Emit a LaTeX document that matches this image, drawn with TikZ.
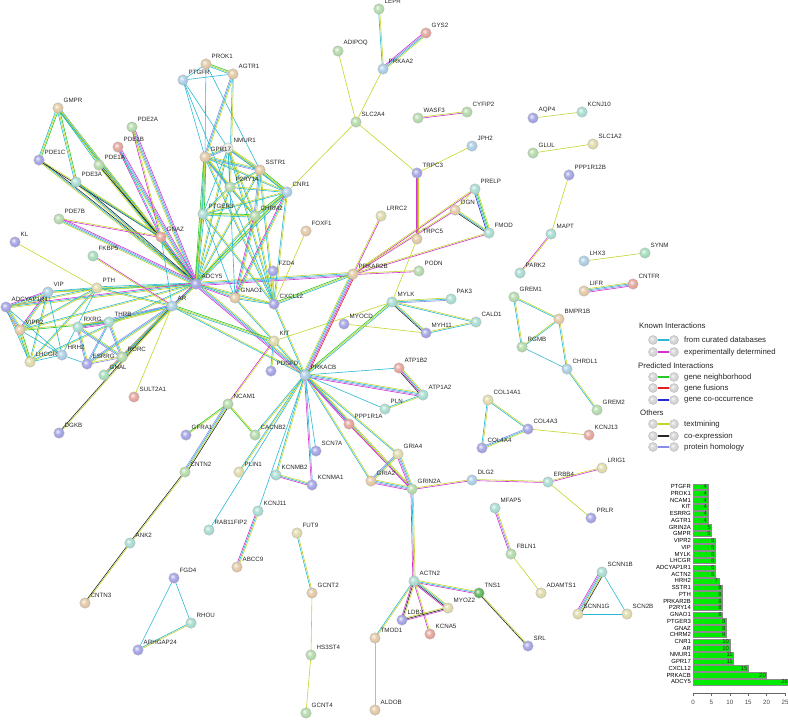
\documentclass[tikz,border=0pt]{standalone}
\usepackage{fontspec}
\setmainfont{Liberation Sans}
\usetikzlibrary{calc,backgrounds}
\definecolor{cd}{RGB}{40,185,210}
\definecolor{ce}{RGB}{210,50,210}
\definecolor{ct}{RGB}{195,212,40}
\definecolor{cx}{RGB}{40,40,40}
\definecolor{ch}{RGB}{140,140,235}
\definecolor{cn}{RGB}{40,200,40}
\definecolor{cf}{RGB}{230,30,30}
\definecolor{co}{RGB}{40,40,220}
\definecolor{bP}{RGB}{150,150,225}
\definecolor{bT}{RGB}{222,192,152}
\definecolor{bG}{RGB}{168,212,158}
\definecolor{bY}{RGB}{218,212,158}
\definecolor{bC}{RGB}{155,214,202}
\definecolor{bB}{RGB}{158,198,224}
\definecolor{bS}{RGB}{224,152,142}
\definecolor{bL}{RGB}{228,232,218}
\definecolor{bD}{RGB}{70,168,70}
\definecolor{bM}{RGB}{150,215,175}
\definecolor{lgray}{RGB}{205,205,205}
\definecolor{barg}{RGB}{0,235,0}
\colorlet{sbc}{white}
\pgfdeclareradialshading[sbc]{sballsh}{\pgfqpoint{-8bp}{8bp}}{%
 color(0bp)=(sbc!10!white); color(12bp)=(sbc!75!white); color(28bp)=(sbc);
 color(45bp)=(sbc!85!black); color(64bp)=(sbc!70!black)}
\tikzset{
 sball/.style={circle, minimum size=10.5pt, inner sep=0pt, draw=black!30,
   line width=0.3pt, /utils/exec={\colorlet{sbc}{#1}}, shading=sballsh},
 lbl/.style={anchor=south west, inner sep=0pt, font=\fontsize{6.2}{7}\selectfont, text=black!85},
 lghead/.style={anchor=west, inner sep=0pt, font=\fontsize{7.8}{9}\selectfont, text=black!85},
 lgtxt/.style={anchor=west, inner sep=0pt, font=\fontsize{7.8}{9}\selectfont, text=black!85},
 lgball/.style={sball=lgray, minimum size=9pt},
 barlbl/.style={anchor=east, inner sep=0pt, font=\fontsize{5.9}{6}\selectfont},
 barnum/.style={anchor=east, inner sep=0pt, font=\fontsize{5.9}{6}\selectfont, text=black!80},
 ticklbl/.style={anchor=north, inner sep=0pt, font=\fontsize{6.2}{7}\selectfont, text=black!70},
}
\newcommand\N[5]{\node[sball=#4] (#1) at (#2,#3) {};
  \node[lbl] (#1l) at ($(#1)+(5.5,-5)$) {#5};}
\newcommand\E[3]{%
 \foreach \cc [count=\ii] in {#3} {\xdef\ecnt{\ii}}%
 \foreach \cc [count=\ii] in {#3} {%
   \pgfmathsetmacro\eoff{(\ii-(\ecnt+1)/2)*1.15}%
   \draw[line width=0.6pt, color=\cc] ($(#1)!\eoff pt!90:(#2)$) -- ($(#2)!\eoff pt!-90:(#1)$);
 }}
\newcommand\LG[4]{\node[lgball] (#1a) at (653,#2) {}; \node[lgball] (#1b) at (674,#2) {};
 \node[lgtxt] (#1t) at (684,#2) {#4};
 \begin{pgfonlayer}{background}\draw[#3, line width=2.2pt] (#1a) -- (#1b);\end{pgfonlayer}}
\begin{document}
\begin{tikzpicture}[x=1pt,y=-1pt]
\useasboundingbox (0,0) rectangle (788,723);
% ---------- nodes: left cluster
\N{GMPR}{58}{108}{bT}{GMPR}
\N{PDE2A}{132}{127}{bG}{PDE2A}
\N{PDE1B}{118}{147}{bS}{PDE1B}
\N{PDE1C}{39}{160}{bP}{PDE1C}
\N{PDE1A}{99}{165}{bG}{PDE1A}
\N{PDE3A}{76}{182}{bC}{PDE3A}
\N{PDE7B}{59}{219}{bG}{PDE7B}
\N{GNAZ}{161}{237}{bS}{GNAZ}
\N{KL}{15}{242}{bP}{KL}
\N{FKBP5}{93}{256}{bM}{FKBP5}
\N{ADCY5}{196}{284}{bP}{ADCY5}
\N{PTH}{97}{288}{bY}{PTH}
\N{VIP}{48}{292}{bB}{VIP}
\N{AR}{172}{306}{bB}{AR}
\N{ADCYAP1R1}{6}{307}{bP}{ADCYAP1R1}
\N{VIPR2}{20}{330}{bT}{VIPR2}
\N{RXRG}{78}{327}{bC}{RXRG}
\N{THRB}{109}{322}{bC}{THRB}
\N{HRH2}{62}{355}{bB}{HRH2}
\N{LHCGR}{30}{362}{bY}{LHCGR}
\N{ESRRG}{87}{364}{bP}{ESRRG}
\N{RORC}{122}{357}{bG}{RORC}
\N{GNAL}{104}{375}{bM}{GNAL}
\N{SULT2A1}{134}{397}{bS}{SULT2A1}
\N{DGKB}{59}{433}{bP}{DGKB}
\N{KIT}{274}{341}{bY}{KIT}
\N{PDGFD}{271}{371}{bP}{PDGFD}
\N{NCAM1}{228}{404}{bG}{NCAM1}
\N{GFRA1}{186}{435}{bP}{GFRA1}
\N{CACNB2}{255}{435}{bG}{CACNB2}
\N{CNTN2}{185}{472}{bG}{CNTN2}
\N{PLIN1}{239}{472}{bY}{PLIN1}
\N{KCNMB2}{276}{475}{bC}{KCNMB2}
\N{KCNJ11}{258}{511}{bC}{KCNJ11}
\N{RAB11FIP2}{209}{530}{bC}{RAB11FIP2}
\N{ANK2}{130}{543}{bC}{ANK2}
\N{ABCC9}{237}{567}{bT}{ABCC9}
\N{FGD4}{174}{578}{bP}{FGD4}
\N{CNTN3}{85}{603}{bT}{CNTN3}
\N{RHOU}{191}{623}{bC}{RHOU}
\N{ARHGAP24}{138}{650}{bP}{ARHGAP24}
% ---------- GPCR cluster
\N{PTGFR}{183}{80}{bB}{PTGFR}
\N{PROK1}{206}{64}{bT}{PROK1}
\N{AGTR1}{233}{74}{bT}{AGTR1}
\N{NMUR1}{228}{148}{bL}{NMUR1}
\N{GPR17}{205}{157}{bT}{GPR17}
\N{SSTR1}{260}{170}{bT}{SSTR1}
\N{P2RY14}{230}{187}{bG}{P2RY14}
\N{CNR1}{287}{192}{bB}{CNR1}
\N{PTGER3}{203}{214}{bC}{PTGER3}
\N{CHRM2}{255}{216}{bG}{CHRM2}
\N{FOXF1}{306}{231}{bT}{FOXF1}
\N{FZD4}{273}{271}{bP}{FZD4}
\N{GNAO1}{235}{298}{bT}{GNAO1}
\N{CXCL12}{274}{304}{bP}{CXCL12}
\N{MYOCD}{344}{324}{bP}{MYOCD}
\N{PRKAR2B}{353}{274}{bT}{PRKAR2B}
\N{PRKACB}{305}{375}{bB}{PRKACB}
% ---------- right part
\N{LEPR}{379}{9}{bG}{LEPR}
\N{GYS2}{426}{33}{bS}{GYS2}
\N{ADIPOQ}{338}{51}{bG}{ADIPOQ}
\N{PRKAA2}{383}{69}{bB}{PRKAA2}
\N{SLC2A4}{356}{122}{bG}{SLC2A4}
\N{WASF3}{418}{118}{bG}{WASF3}
\N{CYFIP2}{467}{112}{bG}{CYFIP2}
\N{AQP4}{533}{118}{bP}{AQP4}
\N{KCNJ10}{582}{112}{bC}{KCNJ10}
\N{JPH2}{472}{146}{bB}{JPH2}
\N{GLUL}{533}{153}{bG}{GLUL}
\N{SLC1A2}{593}{144}{bY}{SLC1A2}
\N{PPP1R12B}{569}{175}{bP}{PPP1R12B}
\N{TRPC3}{417}{173}{bP}{TRPC3}
\N{PRELP}{475}{189}{bC}{PRELP}
\N{OGN}{455}{210}{bT}{OGN}
\N{LRRC2}{381}{216}{bY}{LRRC2}
\N{FMOD}{489}{233}{bC}{FMOD}
\N{TRPC5}{417}{239}{bT}{TRPC5}
\N{MAPT}{551}{234}{bC}{MAPT}
\N{PODN}{419}{271}{bG}{PODN}
\N{LHX3}{584}{261}{bB}{LHX3}
\N{SYNM}{645}{253}{bM}{SYNM}
\N{PARK2}{520}{273}{bC}{PARK2}
\N{LIFR}{584}{291}{bT}{LIFR}
\N{CNTFR}{633}{284}{bS}{CNTFR}
\N{MYLK}{392}{302}{bC}{MYLK}
\N{PAK3}{451}{299}{bC}{PAK3}
\N{GREM1}{514}{297}{bG}{GREM1}
\N{BMPR1B}{559}{319}{bT}{BMPR1B}
\N{CALD1}{476}{322}{bC}{CALD1}
\N{MYH11}{426}{333}{bP}{MYH11}
\N{RGMB}{522}{347}{bG}{RGMB}
\N{CHRDL1}{567}{369}{bB}{CHRDL1}
\N{GREM2}{597}{410}{bG}{GREM2}
\N{COL14A1}{488}{400}{bY}{COL14A1}
\N{COL4A3}{528}{429}{bP}{COL4A3}
\N{COL4A4}{482}{448}{bP}{COL4A4}
\N{KCNJ13}{589}{435}{bS}{KCNJ13}
\N{ATP1B2}{399}{368}{bS}{ATP1B2}
\N{ATP1A2}{423}{395}{bC}{ATP1A2}
\N{PLN}{385}{409}{bC}{PLN}
\N{PPP1R1A}{349}{424}{bS}{PPP1R1A}
\N{SCN7A}{316}{451}{bP}{SCN7A}
\N{GRIA4}{398}{454}{bY}{GRIA4}
\N{GRIA2}{371}{481}{bT}{GRIA2}
\N{KCNMA1}{312}{485}{bP}{KCNMA1}
\N{GRIN2A}{412}{489}{bG}{GRIN2A}
\N{DLG2}{472}{480}{bB}{DLG2}
\N{ERBB4}{548}{482}{bC}{ERBB4}
\N{LRIG1}{602}{468}{bY}{LRIG1}
\N{PRLR}{591}{518}{bP}{PRLR}
\N{MFAP5}{495}{508}{bC}{MFAP5}
\N{FBLN1}{511}{554}{bG}{FBLN1}
\N{FUT9}{297}{533}{bY}{FUT9}
\N{GCNT2}{312}{593}{bT}{GCNT2}
\N{ADAMTS1}{541}{593}{bY}{ADAMTS1}
\N{ACTN2}{414}{581}{bC}{ACTN2}
\N{TNS1}{479}{593}{bD}{TNS1}
\N{MYOZ2}{448}{608}{bY}{MYOZ2}
\N{LDB3}{402}{620}{bP}{LDB3}
\N{KCNA5}{430}{634}{bS}{KCNA5}
\N{TMOD1}{375}{638}{bT}{TMOD1}
\N{SRL}{528}{646}{bP}{SRL}
\N{ALDOB}{375}{710}{bT}{ALDOB}
\N{HS3ST4}{311}{655}{bG}{HS3ST4}
\N{GCNT4}{306}{713}{bG}{GCNT4}
\N{SCNN1B}{602}{572}{bC}{SCNN1B}
\N{SCNN1G}{578}{614}{bY}{SCNN1G}
\N{SCN2B}{627}{614}{bY}{SCN2B}
% ---------- edges
\begin{scope}[on background layer]
\E{ADCY5}{GMPR}{cd,ct,cn}
\E{ADCY5}{PDE2A}{ce,ch,cd,ct}
\E{ADCY5}{PDE1B}{ce,ch,cd,ct}
\E{ADCY5}{PDE1C}{cx,cd,ct}
\E{ADCY5}{PDE1A}{cx,cd,ct}
\E{ADCY5}{PDE3A}{cx,cd,ct}
\E{ADCY5}{PDE7B}{ce,ch,cd,ct}
\E{ADCY5}{GNAZ}{ce,cd,ct}
\E{ADCY5}{GPR17}{cd,ct,cn}
\E{ADCY5}{NMUR1}{cd,ct}
\E{ADCY5}{SSTR1}{cd,ct}
\E{ADCY5}{P2RY14}{cd,ct}
\E{ADCY5}{PTGER3}{cd,ct,cn}
\E{ADCY5}{CHRM2}{cd,ct}
\E{ADCY5}{CNR1}{cd,ct,cn}
\E{ADCY5}{GNAO1}{ce,cd,ct}
\E{ADCY5}{CXCL12}{cd,ct}
\E{ADCY5}{PRKAR2B}{ce,ch,cd,ct}
\E{ADCY5}{PRKACB}{ce,ch,cd,ct}
\E{ADCY5}{AR}{cd,ct}
\E{ADCY5}{PTH}{cd,ct,cn}
\E{ADCY5}{VIP}{cd,ct}
\E{ADCY5}{ADCYAP1R1}{ce,cd,ct}
\E{ADCY5}{VIPR2}{cd,ct}
\E{ADCY5}{LHCGR}{cd,ct}
\E{ADCY5}{GNAL}{ce,cd,ct}
\E{GMPR}{PDE1C}{cd,ct,cn}
\E{GMPR}{PDE3A}{cd,ct,cn}
\E{GMPR}{PDE1A}{cd,ct}
\E{GMPR}{GNAZ}{cd,ct}
\E{PDE1C}{GNAZ}{cx,ct}
\E{PDE1A}{GNAZ}{cx,ct}
\E{PDE2A}{GNAZ}{ce,ct}
\E{PDE1B}{GNAZ}{ce,cd}
\E{PDE7B}{GNAZ}{ce,ct}
\E{PDE3A}{GNAZ}{cd,ct}
\E{GNAZ}{AR}{cd}
\E{PTGFR}{PROK1}{cd}
\E{PTGFR}{AGTR1}{cd}
\E{PROK1}{AGTR1}{cd,ct,cn}
\E{PTGFR}{GPR17}{cd}
\E{PTGFR}{NMUR1}{cd}
\E{PROK1}{GPR17}{cd}
\E{PROK1}{SSTR1}{cd}
\E{AGTR1}{GPR17}{ch,cd,ct}
\E{AGTR1}{P2RY14}{cd,ct}
\E{GPR17}{NMUR1}{ch,cd,ct}
\E{GPR17}{SSTR1}{ch,cd,ct}
\E{GPR17}{P2RY14}{ch,cd,ct}
\E{GPR17}{PTGER3}{cd,ct,cn}
\E{GPR17}{CHRM2}{cd,ct}
\E{GPR17}{CNR1}{cd,ct}
\E{GPR17}{CXCL12}{cd,ct}
\E{NMUR1}{SSTR1}{ch,cd,ct}
\E{NMUR1}{P2RY14}{cd}
\E{NMUR1}{CNR1}{cd,ct}
\E{NMUR1}{CHRM2}{cd,ct}
\E{NMUR1}{PTGER3}{cd}
\E{NMUR1}{CXCL12}{cd,ct}
\E{NMUR1}{GNAO1}{cd}
\E{SSTR1}{P2RY14}{cd,ct}
\E{SSTR1}{CNR1}{cd,ct,cn}
\E{SSTR1}{CHRM2}{ch,cd,ct}
\E{SSTR1}{CXCL12}{cd,ct}
\E{P2RY14}{CNR1}{cd,ct}
\E{P2RY14}{PTGER3}{cd,ct}
\E{P2RY14}{CHRM2}{cd,ct}
\E{PTGER3}{CHRM2}{cd,ct,cn}
\E{PTGER3}{CNR1}{cd,ct}
\E{PTGER3}{CXCL12}{cd,ct}
\E{PTGER3}{GNAO1}{cd}
\E{CHRM2}{CNR1}{cd,ct,cn}
\E{CHRM2}{CXCL12}{cd,ct}
\E{CHRM2}{GNAO1}{ce,cd,ct}
\E{CNR1}{CXCL12}{cd,ct}
\E{CNR1}{GNAO1}{ce,cd,ct}
\E{CNR1}{SLC2A4}{ct}
\E{GNAO1}{CXCL12}{cd,ct}
\E{GNAO1}{PRKACB}{cd,ct}
\E{FZD4}{CXCL12}{ct}
\E{FOXF1}{CXCL12}{ct}
\E{CXCL12}{PRKAR2B}{cd,ct,cn}
\E{CXCL12}{PRKACB}{cd,ct}
\E{PTGFR}{CXCL12}{cd}
\E{AR}{PTH}{cd,ct}
\E{AR}{THRB}{ch,cd,ct}
\E{AR}{RXRG}{ch,cd,ct}
\E{AR}{ESRRG}{ch,cd,ct}
\E{AR}{RORC}{ch,cd,ct}
\E{AR}{FKBP5}{ce,ct}
\E{AR}{SULT2A1}{ct}
\E{AR}{DGKB}{cx,ct}
\E{AR}{KIT}{cd,ct,cn}
\E{AR}{PRKACB}{cd,ct}
\E{KL}{PTH}{ct}
\E{PTH}{VIP}{cd,ct}
\E{PTH}{ADCYAP1R1}{cd,ct}
\E{PTH}{VIPR2}{cd,ct}
\E{PTH}{LHCGR}{cd,ct}
\E{PTH}{HRH2}{cd}
\E{VIP}{ADCYAP1R1}{ce,cd,ct}
\E{VIP}{VIPR2}{ce,cd,ct}
\E{VIP}{LHCGR}{cd,ct}
\E{VIP}{HRH2}{cd}
\E{ADCYAP1R1}{VIPR2}{ce,ch,cd,ct}
\E{ADCYAP1R1}{LHCGR}{cd,ct}
\E{ADCYAP1R1}{HRH2}{cd}
\E{VIPR2}{LHCGR}{cd,ct,cn}
\E{VIPR2}{HRH2}{cd}
\E{LHCGR}{HRH2}{cd}
\E{VIPR2}{THRB}{cn,ct}
\E{RXRG}{THRB}{ce,ch,cd,ct}
\E{RXRG}{ESRRG}{ch,cd,ct}
\E{RXRG}{RORC}{ch,cd,ct}
\E{THRB}{ESRRG}{ch,cd}
\E{THRB}{RORC}{ch,cd,ct}
\E{ESRRG}{RORC}{ch,ct}
\E{HRH2}{ESRRG}{cd}
\E{GNAL}{AR}{cd,ct}
\E{KIT}{PDGFD}{cd,ct}
\E{KIT}{NCAM1}{ce,ct}
\E{KIT}{MYLK}{ct}
\E{NCAM1}{GFRA1}{cn,ct}
\E{NCAM1}{CACNB2}{cn,ct}
\E{NCAM1}{CNTN2}{ch,cd,ct,cx}
\E{CNTN2}{ANK2}{cx,ct}
\E{ANK2}{CNTN3}{cx,ct}
\E{FGD4}{RHOU}{cd}
\E{FGD4}{ARHGAP24}{cd}
\E{RHOU}{ARHGAP24}{cd,ct}
\E{KCNJ11}{ABCC9}{ce,cd,ct}
\E{FUT9}{GCNT2}{cd,ct}
\E{GCNT2}{HS3ST4}{ct}
\E{HS3ST4}{GCNT4}{ct}
\E{PRKACB}{PRKAR2B}{cf,ce,ch,cd,ct}
\E{PRKACB}{MYLK}{cd,ct,cn}
\E{PRKACB}{ATP1B2}{cd}
\E{PRKACB}{ATP1A2}{ce,ch,cd,ct}
\E{PRKACB}{PLN}{cd}
\E{PRKACB}{PPP1R1A}{ce,cd,ct}
\E{PRKACB}{GRIA4}{cd,ct}
\E{PRKACB}{GRIA2}{cd,ct}
\E{PRKACB}{GRIN2A}{ce,cd,ct}
\E{PRKACB}{SCN7A}{cd}
\E{PRKACB}{KCNMA1}{ce,cd}
\E{PRKACB}{KCNMB2}{cd,ct}
\E{PRKACB}{KCNJ11}{cd}
\E{PRKACB}{CACNB2}{cd,ct}
\E{PRKACB}{RAB11FIP2}{cd}
\E{PRKACB}{PLIN1}{cd,ct}
\E{ATP1B2}{ATP1A2}{cx,ce,cd,ct}
\E{ATP1A2}{PLN}{cd,ct}
\E{PPP1R1A}{GRIN2A}{ce,ct}
\E{GRIA4}{GRIN2A}{ce,ch,cd,ct}
\E{GRIA4}{GRIA2}{ch,cd,ct}
\E{GRIA2}{GRIN2A}{ce,ch,cd,ct}
\E{GRIN2A}{DLG2}{ce,ct}
\E{DLG2}{ERBB4}{ce,ct}
\E{ERBB4}{LRIG1}{ce,ct}
\E{ERBB4}{PRLR}{ct}
\E{GRIN2A}{ACTN2}{ce,cd,ct}
\E{KCNMB2}{KCNMA1}{ce,cd,ct}
\E{ACTN2}{TMOD1}{cd,ct}
\E{ACTN2}{TNS1}{ce,cd,ct}
\E{ACTN2}{MYOZ2}{ce,cx,cd,ct}
\E{ACTN2}{LDB3}{ce,cx,ct}
\E{ACTN2}{KCNA5}{ce,ct}
\E{LDB3}{MYOZ2}{ce,cx,ct}
\E{TNS1}{SRL}{cx,ct}
\E{TMOD1}{ALDOB}{ct}
\E{MFAP5}{FBLN1}{ce,ch,ct}
\E{FBLN1}{ADAMTS1}{ct}
\E{SCNN1B}{SCNN1G}{ce,ch,cd,ct,cx}
\E{SCNN1B}{SCN2B}{cd}
\E{SCNN1G}{SCN2B}{cd}
\E{LEPR}{PRKAA2}{cd,ct}
\E{GYS2}{PRKAA2}{ce,ch,cd,ct}
\E{ADIPOQ}{SLC2A4}{ct}
\E{PRKAA2}{SLC2A4}{ct}
\E{SLC2A4}{TRPC3}{ct}
\E{WASF3}{CYFIP2}{ce,ct}
\E{AQP4}{KCNJ10}{ct}
\E{GLUL}{SLC1A2}{ct}
\E{JPH2}{TRPC3}{ct}
\E{TRPC3}{TRPC5}{ce,ch,ct}
\E{PPP1R12B}{MAPT}{ct}
\E{MAPT}{PARK2}{ce,ct}
\E{LHX3}{SYNM}{ct}
\E{LIFR}{CNTFR}{ce,ch,cd,ct}
\E{PRELP}{OGN}{ct}
\E{PRELP}{FMOD}{co,cd,cn,ct}
\E{OGN}{FMOD}{cx,cd,ct}
\E{PRKAR2B}{PRELP}{ce,ct}
\E{PRKAR2B}{OGN}{ce,ct}
\E{PRKAR2B}{FMOD}{ce,ct}
\E{PRKAR2B}{LRRC2}{ce,ct}
\E{PRKAR2B}{PODN}{ce,ct}
\E{TRPC5}{MYLK}{ct}
\E{MYLK}{PAK3}{ch,cd,ct}
\E{MYLK}{CALD1}{cd,ct}
\E{MYLK}{MYH11}{cx,cd,ct}
\E{MYH11}{CALD1}{cd,ct}
\E{MYOCD}{MYH11}{ct}
\E{GREM1}{BMPR1B}{cd,ct}
\E{GREM1}{RGMB}{cd,ct}
\E{RGMB}{BMPR1B}{cd,ct}
\E{RGMB}{CHRDL1}{cd}
\E{BMPR1B}{CHRDL1}{cd,ct}
\E{CHRDL1}{GREM2}{cd,ct}
\E{COL14A1}{COL4A3}{cd,ct}
\E{COL14A1}{COL4A4}{cd,ct}
\E{COL4A3}{COL4A4}{ch,cd,ct}
\E{COL4A3}{KCNJ13}{ct}
\end{scope}
% ---------- legend
\node[lghead] (lgk) at (639,326) {Known Interactions};
\LG{lga}{340}{cd}{from curated databases}
\LG{lgb}{352}{ce}{experimentally determined}
\node[lghead] (lgp) at (638,366) {Predicted Interactions};
\LG{lgc}{377}{cn}{gene neighborhood}
\LG{lgd}{388}{cf}{gene fusions}
\LG{lge}{400}{co}{gene co-occurrence}
\node[lghead] (lgo) at (640,413) {Others};
\LG{lgf}{424}{ct}{textmining}
\LG{lgg}{436}{cx}{co-expression}
\LG{lgh}{447}{ch}{protein homology}
% ---------- bar chart
\foreach \nm/\v [count=\i from 0] in {PTGFR/4,PROK1/4,NCAM1/4,KIT/4,ESRRG/4,AGTR1/4,GRIN2A/5,GMPR/5,VIPR2/6,VIP/6,MYLK/6,LHCGR/6,ADCYAP1R1/6,ACTN2/6,HRH2/7,SSTR1/8,PTH/8,PRKAR2B/8,P2RY14/8,GNAO1/8,PTGER3/9,GNAZ/9,CHRM2/9,CNR1/10,AR/10,NMUR1/11,GPR17/11,CXCL12/15,PRKACB/20,ADCY5/26}{
  \pgfmathsetmacro\yy{486.7+\i*6.73}
  \draw[fill=barg, draw=black!45, line width=0.3pt] (693,\yy-2.8) rectangle (693+\v*3.68,\yy+2.8);
  \node[barlbl] (bl\i) at (691,\yy) {\nm};
  \node[barnum] (bv\i) at (692.4+\v*3.68,\yy) {\v};
}
\draw[black!60, line width=0.4pt] (693,693) -- (785,693);
\foreach \t [count=\k] in {0,5,10,15,20,25}{
  \draw[black!60, line width=0.4pt] (693+\t*3.68,693) -- (693+\t*3.68,696);
  \node[ticklbl] (tk\k) at (693+\t*3.68,700) {\t};
}
\end{tikzpicture}
\end{document}
